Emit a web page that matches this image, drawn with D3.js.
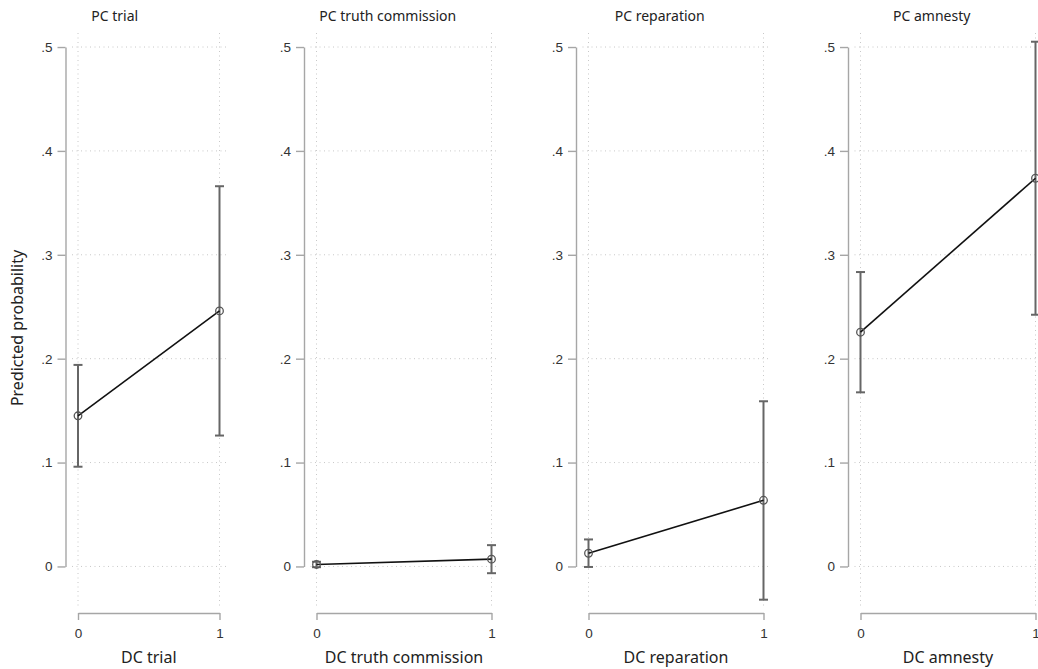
<!DOCTYPE html>
<html>
<head>
<meta charset="utf-8">
<script src="https://cdn.jsdelivr.net/npm/d3@7"></script>
<style>
  body { margin: 0; background: #fff; }
  svg { display: block; font-family: "Noto Sans", "Open Sans", sans-serif; }
  .grid line { stroke: #c8c8c8; stroke-dasharray: 1 3.5; }
  .axis path, .axis line { stroke: #a6a6a6; stroke-width: 1.4; }
  .axis text { fill: #333; font-size: 13.5px; }
</style>
</head>
<body>
<div class="chart"></div>
<script>
// panel titles and x axis titles
const panelTitles = ['PC trial', 'PC truth commission', 'PC reparation', 'PC amnesty'];
const xTitles = ['DC trial', 'DC truth commission', 'DC reparation', 'DC amnesty'];

// predicted probability at DC = 0 and DC = 1, with 95% CI
const estimates = [
  [0.145, 0.246],
  [0.0019, 0.007],
  [0.0127, 0.0637],
  [0.2255, 0.3737]
];
const lower = [
  [0.096, 0.126],
  [-0.0007, -0.0065],
  [-0.0005, -0.032],
  [0.1676, 0.2423]
];
const upper = [
  [0.194, 0.366],
  [0.0045, 0.0205],
  [0.026, 0.159],
  [0.2834, 0.5051]
];

const xTicks = [0, 1];
const yTicks = [0, 0.1, 0.2, 0.3, 0.4, 0.5];

const width = 1038;
const height = 669;

const svg = d3.select('.chart').append('svg')
  .attr('width', width)
  .attr('height', height);

// y scale shared by all panels (plot region runs a bit past 0 and .5)
const y = d3.scaleLinear().domain([-0.04, 0.5135]).range([608, 33]);
const yAxisScale = y.copy().domain([0, 0.5]).range([y(0), y(0.5)]);

const fmt = d => (d === 0 ? '0' : d3.format('.1f')(d).replace(/^0/, ''));

panelTitles.forEach((title, i) => {
  const x1 = 272 * (i + 1) - 52.5;
  const x0 = i === 0 ? 78 : x1 - 175;
  const x = d3.scaleLinear().domain([0, 1]).range([x0, x1]);
  const axisX = x0 - 12.5;
  const g = svg.append('g');

  // dotted grid
  const grid = g.append('g').attr('class', 'grid');
  grid.selectAll('.h')
    .data(yTicks)
    .enter()
    .append('line')
    .attr('x1', x0 - 6)
    .attr('x2', x1 + 8)
    .attr('y1', d => y(d))
    .attr('y2', d => y(d));
  grid.selectAll('.v')
    .data(xTicks)
    .enter()
    .append('line')
    .attr('x1', d => x(d))
    .attr('x2', d => x(d))
    .attr('y1', y.range()[1])
    .attr('y2', y.range()[0]);

  // axes
  g.append('g')
    .attr('class', 'axis')
    .attr('transform', `translate(${axisX},0)`)
    .call(d3.axisLeft(yAxisScale).tickValues(yTicks).tickFormat(fmt).tickSize(8).tickSizeOuter(0).tickPadding(5));

  g.append('g')
    .attr('class', 'axis')
    .attr('transform', 'translate(0,613)')
    .call(d3.axisBottom(x).tickValues(xTicks).tickFormat(d3.format('d')).tickSize(7).tickSizeOuter(0).tickPadding(8));

  // error bars
  const bars = g.append('g').attr('stroke', '#666').attr('stroke-width', 2);
  xTicks.forEach((xv, j) => {
    bars.append('line')
      .attr('x1', x(xv)).attr('x2', x(xv))
      .attr('y1', y(lower[i][j])).attr('y2', y(upper[i][j]));
    [lower[i][j], upper[i][j]].forEach(v => {
      bars.append('line')
        .attr('x1', x(xv) - 4.5).attr('x2', x(xv) + 4.5)
        .attr('y1', y(v)).attr('y2', y(v));
    });
  });

  // connecting line
  g.append('path')
    .datum(xTicks.map((xv, j) => [xv, estimates[i][j]]))
    .attr('fill', 'none')
    .attr('stroke', '#111')
    .attr('stroke-width', 1.6)
    .attr('d', d3.line().x(d => x(d[0])).y(d => y(d[1])));

  // hollow markers
  g.selectAll('circle')
    .data(xTicks.map((xv, j) => [xv, estimates[i][j]]))
    .enter()
    .append('circle')
    .attr('cx', d => x(d[0]))
    .attr('cy', d => y(d[1]))
    .attr('r', 3.8)
    .attr('fill', 'none')
    .attr('stroke', '#555')
    .attr('stroke-width', 1.3);

  // titles
  const left = i === 0 ? 10 : axisX - 20;
  g.append('text')
    .attr('x', (left + x1) / 2)
    .attr('y', 21)
    .attr('text-anchor', 'middle')
    .attr('font-size', 14)
    .attr('fill', '#222')
    .text(title);

  g.append('text')
    .attr('x', (x0 + x1) / 2)
    .attr('y', 663)
    .attr('text-anchor', 'middle')
    .attr('font-size', 16)
    .attr('fill', '#222')
    .text(xTitles[i]);
});

svg.append('text')
  .attr('transform', 'translate(23,328) rotate(-90)')
  .attr('text-anchor', 'middle')
  .attr('font-size', 16)
  .attr('fill', '#222')
  .text('Predicted probability');
</script>
</body>
</html>
